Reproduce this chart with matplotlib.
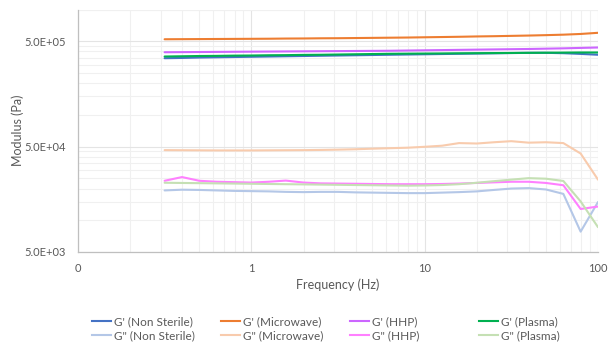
import matplotlib
matplotlib.use("Agg")
import matplotlib.pyplot as plt
import matplotlib.ticker as mticker
from matplotlib.lines import Line2D

# --- Data ---
FREQ = [0.316, 0.398, 0.501, 0.631, 0.794, 1.0, 1.26, 1.58, 2.0, 2.51,
        3.16, 3.98, 5.01, 6.31, 7.94, 10.0, 12.6, 15.8, 20.0, 25.1,
        31.6, 39.8, 50.1, 63.1, 79.4, 100.0]

# storage modulus G' (Pa)
gp_non_sterile = [345e3, 347e3, 350e3, 352e3, 354e3, 356e3, 358e3, 360e3, 362e3, 364e3,
                  366e3, 368e3, 370e3, 372e3, 374e3, 376e3, 378e3, 380e3, 382e3, 384e3,
                  386e3, 388e3, 388e3, 385e3, 379e3, 372e3]
gp_microwave = [522e3, 523e3, 524e3, 525e3, 526e3, 527e3, 528e3, 530e3, 531e3, 533e3,
                534e3, 536e3, 538e3, 540e3, 542e3, 545e3, 548e3, 551e3, 555e3, 558e3,
                562e3, 566e3, 571e3, 577e3, 586e3, 601e3]
gp_hhp = [393e3, 394e3, 395e3, 396e3, 397e3, 398e3, 399e3, 400e3, 401e3, 402e3,
          403e3, 404e3, 405e3, 406e3, 408e3, 410e3, 412e3, 414e3, 416e3, 418e3,
          420e3, 422e3, 425e3, 428e3, 432e3, 436e3]
gp_plasma = [358e3, 360e3, 362e3, 363e3, 365e3, 366e3, 368e3, 369e3, 371e3, 372e3,
             374e3, 376e3, 378e3, 380e3, 381e3, 382e3, 383e3, 384e3, 385e3, 386e3,
             387e3, 388e3, 389e3, 390e3, 391e3, 391e3]

# loss modulus G'' (Pa)
gpp_non_sterile = [19.2e3, 19.5e3, 19.4e3, 19.2e3, 19.0e3, 18.9e3, 18.8e3, 18.6e3, 18.5e3, 18.6e3,
                   18.6e3, 18.4e3, 18.3e3, 18.2e3, 18.1e3, 18.1e3, 18.3e3, 18.5e3, 18.8e3, 19.4e3,
                   20.0e3, 20.2e3, 19.6e3, 17.8e3, 7.8e3, 14.9e3]
gpp_microwave = [46.3e3, 46.2e3, 46.1e3, 46.0e3, 46.0e3, 46.0e3, 46.1e3, 46.2e3, 46.3e3, 46.5e3,
                 46.8e3, 47.2e3, 47.8e3, 48.3e3, 48.8e3, 49.8e3, 51.0e3, 54.0e3, 53.5e3, 55.0e3,
                 56.3e3, 54.5e3, 55.0e3, 54.0e3, 43.0e3, 24.3e3]
gpp_hhp = [23.7e3, 25.7e3, 23.7e3, 23.2e3, 23.0e3, 22.8e3, 23.2e3, 23.8e3, 22.8e3, 22.4e3,
           22.3e3, 22.2e3, 22.1e3, 22.0e3, 22.0e3, 22.0e3, 22.1e3, 22.3e3, 22.6e3, 22.9e3,
           23.2e3, 23.2e3, 22.6e3, 21.5e3, 12.8e3, 13.5e3]
gpp_plasma = [22.7e3, 22.6e3, 22.5e3, 22.4e3, 22.3e3, 22.2e3, 22.1e3, 22.0e3, 21.9e3, 21.8e3,
              21.7e3, 21.6e3, 21.5e3, 21.4e3, 21.3e3, 21.4e3, 21.6e3, 22.0e3, 22.7e3, 23.5e3,
              24.3e3, 25.1e3, 24.8e3, 23.6e3, 15.1e3, 8.6e3]

SERIES = [
    ("G' (Non Sterile)", gp_non_sterile, "#4472C4"),
    ("G' (Microwave)", gp_microwave, "#ED7D31"),
    ("G' (HHP)", gp_hhp, "#CC66FF"),
    ("G' (Plasma)", gp_plasma, "#00B050"),
    ('G" (Non Sterile)', gpp_non_sterile, "#B4C7E7"),
    ('G" (Microwave)', gpp_microwave, "#F8CBAD"),
    ('G" (HHP)', gpp_hhp, "#FF80FF"),
    ('G" (Plasma)', gpp_plasma, "#C5E0B4"),
]

TEXT = "#595959"
plt.rcParams['font.family'] = ['Lato', 'DejaVu Sans']
plt.rcParams['font.size'] = 8.5

fig = plt.figure(figsize=(6.09, 3.42), dpi=100)
ax = fig.add_axes([78/609, 1 - 252/342, 520/609, 242.5/342])

for name, vals, col in SERIES:
    ax.plot(FREQ, vals, color=col, linewidth=1.5, label=name, solid_capstyle='round')

ax.set_xscale('log')
ax.set_yscale('log')
ax.set_xlim(0.1, 100)
ax.set_ylim(5e3, 1e6)

ax.xaxis.set_major_locator(mticker.FixedLocator([0.1, 1, 10, 100]))
ax.xaxis.set_major_formatter(mticker.FuncFormatter(lambda v, p: f"{v:.0f}"))
ax.xaxis.set_minor_locator(mticker.LogLocator(base=10, subs=range(2, 10)))
ax.xaxis.set_minor_formatter(mticker.NullFormatter())

ax.yaxis.set_major_locator(mticker.FixedLocator([5e3, 5e4, 5e5]))
ax.yaxis.set_major_formatter(mticker.FuncFormatter(lambda v, p: f"{v:.1E}"))
ax.yaxis.set_minor_locator(mticker.FixedLocator(
    [5e3 * k * 10**d for d in range(3) for k in range(2, 10)] + [1e6]))
ax.yaxis.set_minor_formatter(mticker.NullFormatter())

ax.grid(True, which='major', color='#E4E4E4', linewidth=0.8)
ax.grid(True, which='minor', color='#F0F0F0', linewidth=0.8)
ax.set_axisbelow(True)
ax.tick_params(which='both', length=0, colors=TEXT, labelsize=8)
ax.tick_params(axis='x', pad=8)
ax.tick_params(axis='y', pad=9)

for s in ('top', 'right'):
    ax.spines[s].set_visible(False)
for s in ('left', 'bottom'):
    ax.spines[s].set_color('#BFBFBF')
    ax.spines[s].set_linewidth(0.9)

ax.set_xlabel("Frequency (Hz)", color=TEXT, fontsize=9, labelpad=3)
ax.set_ylabel("Modulus (Pa)", color=TEXT, fontsize=9)
ax.yaxis.set_label_coords(-0.104, 0.5)

# --- Legend: 4 equal-width columns, 2 rows ---
col_x = [92, 221, 350, 479]
for i, x in enumerate(col_x):
    items = [SERIES[i], SERIES[i + 4]]
    handles = [Line2D([], [], color=c, linewidth=1.5) for _, _, c in items]
    fig.legend(handles, [n for n, _, _ in items], loc='upper left',
               bbox_to_anchor=(x / 609, 1 - 316 / 342), frameon=False,
               handlelength=1.6, handletextpad=0.3, labelspacing=0.3,
               borderaxespad=0, borderpad=0, labelcolor=TEXT, fontsize=8.5)

fig.savefig("out.png", dpi=100)
